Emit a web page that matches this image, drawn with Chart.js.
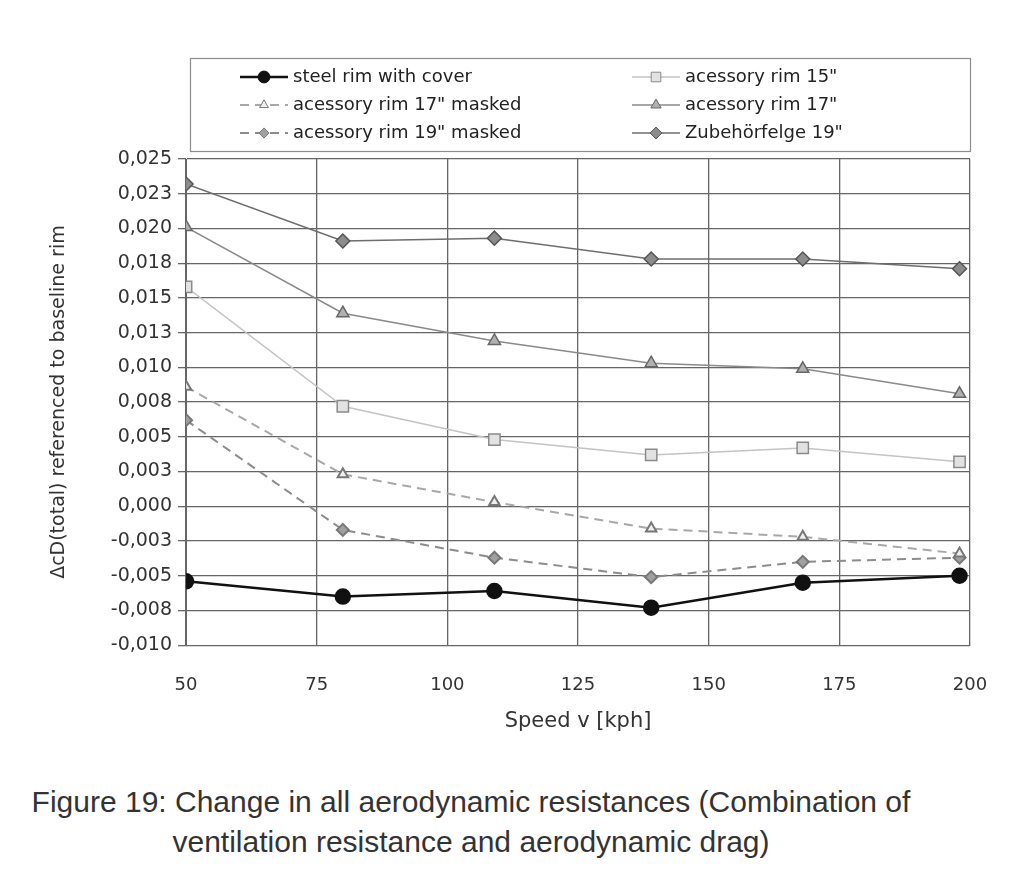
<!DOCTYPE html>
<html>
<head>
<meta charset="utf-8">
<title>Figure 19</title>
<script src="https://cdn.jsdelivr.net/npm/chart.js@4/dist/chart.umd.min.js"></script>
<style>
  body { margin: 0; background: #fff; }
  #seite { position: relative; width: 1024px; height: 874px; overflow: hidden; }
  #diagramm { position: absolute; left: 0; top: 0; width: 1024px; height: 760px; }
  #unterschrift {
    position: absolute; left: 0; top: 782px; width: 942px;
    text-align: center; font-family: "Liberation Sans", Arial, sans-serif;
    font-size: 30px; line-height: 40px; color: #333;
  }
</style>
</head>
<body>
<div id="seite">
  <div id="diagramm"><canvas id="widerstaende"></canvas></div>
  <div id="unterschrift">Figure 19: Change in all aerodynamic resistances (Combination of<br>ventilation resistance and aerodynamic drag)</div>
</div>
<script>
// Geschwindigkeiten [kph]
const speeds = [50, 80, 109, 139, 168, 198];

// delta cD (total) je Felge
const steelRimCover = [-0.0054, -0.0065, -0.0061, -0.0073, -0.0055, -0.0050];
const rim15 = [0.0158, 0.0072, 0.0048, 0.0037, 0.0042, 0.0032];
const rim17Masked = [0.0086, 0.0023, 0.0003, -0.0016, -0.0022, -0.0034];
const rim17 = [0.0201, 0.0139, 0.0119, 0.0103, 0.0099, 0.0081];
const rim19Masked = [0.0062, -0.0017, -0.0037, -0.0051, -0.0040, -0.0037];
const zubehoer19 = [0.0232, 0.0191, 0.0193, 0.0178, 0.0178, 0.0171];

const seriesLabels = [
  'steel rim with cover',
  'acessory rim 15"',
  'acessory rim 17" masked',
  'acessory rim 17"',
  'acessory rim 19" masked',
  'Zubehörfelge 19"'
];

const xTicks = [50, 75, 100, 125, 150, 175, 200];
const yTicks = [-0.01, -0.0075, -0.005, -0.0025, 0, 0.0025, 0.005, 0.0075, 0.01, 0.0125, 0.015, 0.0175, 0.02, 0.0225, 0.025];
const yTickLabels = ['-0,010', '-0,008', '-0,005', '-0,003', '0,000', '0,003', '0,005', '0,008', '0,010', '0,013', '0,015', '0,018', '0,020', '0,023', '0,025'];

function punkte(werte) {
  return werte.map((y, i) => ({ x: speeds[i], y: y }));
}

var schrift = '"DejaVu Sans", "Liberation Sans", sans-serif';

const kastenLegende = {
  id: 'kastenLegende',
  afterDraw(chart) {
    const ctx = chart.ctx;
    ctx.save();
    ctx.strokeStyle = '#8c8c8c';
    ctx.lineWidth = 1.2;
    ctx.strokeRect(190.5, 58.5, 780, 93);

    chart.data.datasets.forEach((ds, i) => {
      const x0 = i % 2 === 0 ? 240 : 632;
      const y = 77 + Math.floor(i / 2) * 28;

      ctx.strokeStyle = ds.borderColor;
      ctx.lineWidth = ds.borderWidth;
      ctx.setLineDash(ds.borderDash || []);
      ctx.beginPath();
      ctx.moveTo(x0, y);
      ctx.lineTo(x0 + 48, y);
      ctx.stroke();
      ctx.setLineDash([]);

      ctx.fillStyle = ds.pointBackgroundColor;
      ctx.strokeStyle = ds.pointBorderColor;
      ctx.lineWidth = 1;
      Chart.helpers.drawPoint(ctx, {
        pointStyle: ds.pointStyle,
        radius: ds.pointRadius * 0.85,
        rotation: 0,
        borderWidth: 1
      }, x0 + 24, y);

      ctx.fillStyle = '#222';
      ctx.font = '18px ' + schrift;
      ctx.textAlign = 'left';
      ctx.textBaseline = 'middle';
      ctx.fillText(ds.label, x0 + 53, y);
    });
    ctx.restore();
  }
};

var grafik = new Chart(
  document.getElementById('widerstaende'),
  {
    type: 'line',
    plugins: [kastenLegende],
    data: {
      datasets: [
        {
          label: seriesLabels[0],
          data: punkte(steelRimCover),
          borderColor: '#111',
          borderWidth: 2.5,
          pointStyle: 'circle',
          pointRadius: 7,
          pointBackgroundColor: '#111',
          pointBorderColor: '#111'
        },
        {
          label: seriesLabels[1],
          data: punkte(rim15),
          borderColor: '#c4c4c4',
          borderWidth: 1.5,
          pointStyle: 'rect',
          pointRadius: 8,
          pointBackgroundColor: '#e2e2e2',
          pointBorderColor: '#8a8a8a'
        },
        {
          label: seriesLabels[2],
          data: punkte(rim17Masked),
          borderColor: '#a8a8a8',
          borderWidth: 2,
          borderDash: [9, 6],
          pointStyle: 'triangle',
          pointRadius: 6,
          pointBackgroundColor: '#eeeeee',
          pointBorderColor: '#777'
        },
        {
          label: seriesLabels[3],
          data: punkte(rim17),
          borderColor: '#8a8a8a',
          borderWidth: 1.5,
          pointStyle: 'triangle',
          pointRadius: 7,
          pointBackgroundColor: '#b0b0b0',
          pointBorderColor: '#666'
        },
        {
          label: seriesLabels[4],
          data: punkte(rim19Masked),
          borderColor: '#8c8c8c',
          borderWidth: 2,
          borderDash: [9, 6],
          pointStyle: 'rectRot',
          pointRadius: 6,
          pointBackgroundColor: '#a0a0a0',
          pointBorderColor: '#777'
        },
        {
          label: seriesLabels[5],
          data: punkte(zubehoer19),
          borderColor: '#6e6e6e',
          borderWidth: 1.5,
          pointStyle: 'rectRot',
          pointRadius: 7,
          pointBackgroundColor: '#8c8c8c',
          pointBorderColor: '#555'
        }
      ]
    },
    options: {
      responsive: true,
      maintainAspectRatio: false,
      animation: false,
      tension: 0,
      layout: {
        padding: { top: 159, left: 48, right: 54, bottom: 26 }
      },
      plugins: {
        legend: { display: false },
        tooltip: { enabled: false }
      },
      scales: {
        x: {
          type: 'linear',
          min: 50,
          max: 200,
          afterBuildTicks: (achse) => { achse.ticks = xTicks.map(v => ({ value: v })); },
          ticks: {
            color: '#333',
            font: { family: schrift, size: 18 },
            padding: 29
          },
          grid: { color: '#666', lineWidth: 1.3, tickLength: 0 },
          border: { color: '#666' },
          title: {
            display: true,
            text: 'Speed v [kph]',
            color: '#333',
            font: { family: schrift, size: 21 },
            padding: { top: -16, bottom: 0 }
          }
        },
        y: {
          type: 'linear',
          min: -0.01,
          max: 0.025,
          afterBuildTicks: (achse) => { achse.ticks = yTicks.map(v => ({ value: v })); },
          ticks: {
            color: '#333',
            font: { family: schrift, size: 19 },
            padding: 6,
            callback: (wert) => {
              const i = yTicks.findIndex(t => Math.abs(t - wert) < 1e-9);
              return i >= 0 ? yTickLabels[i] : '';
            }
          },
          grid: { color: '#666', lineWidth: 1.3, tickLength: 8 },
          border: { color: '#666' },
          title: {
            display: true,
            text: 'ΔcD(total) referenced to baseline rim',
            color: '#333',
            font: { family: schrift, size: 19 },
            padding: { top: 0, bottom: 34 }
          }
        }
      }
    }
  }
);
</script>
</body>
</html>
